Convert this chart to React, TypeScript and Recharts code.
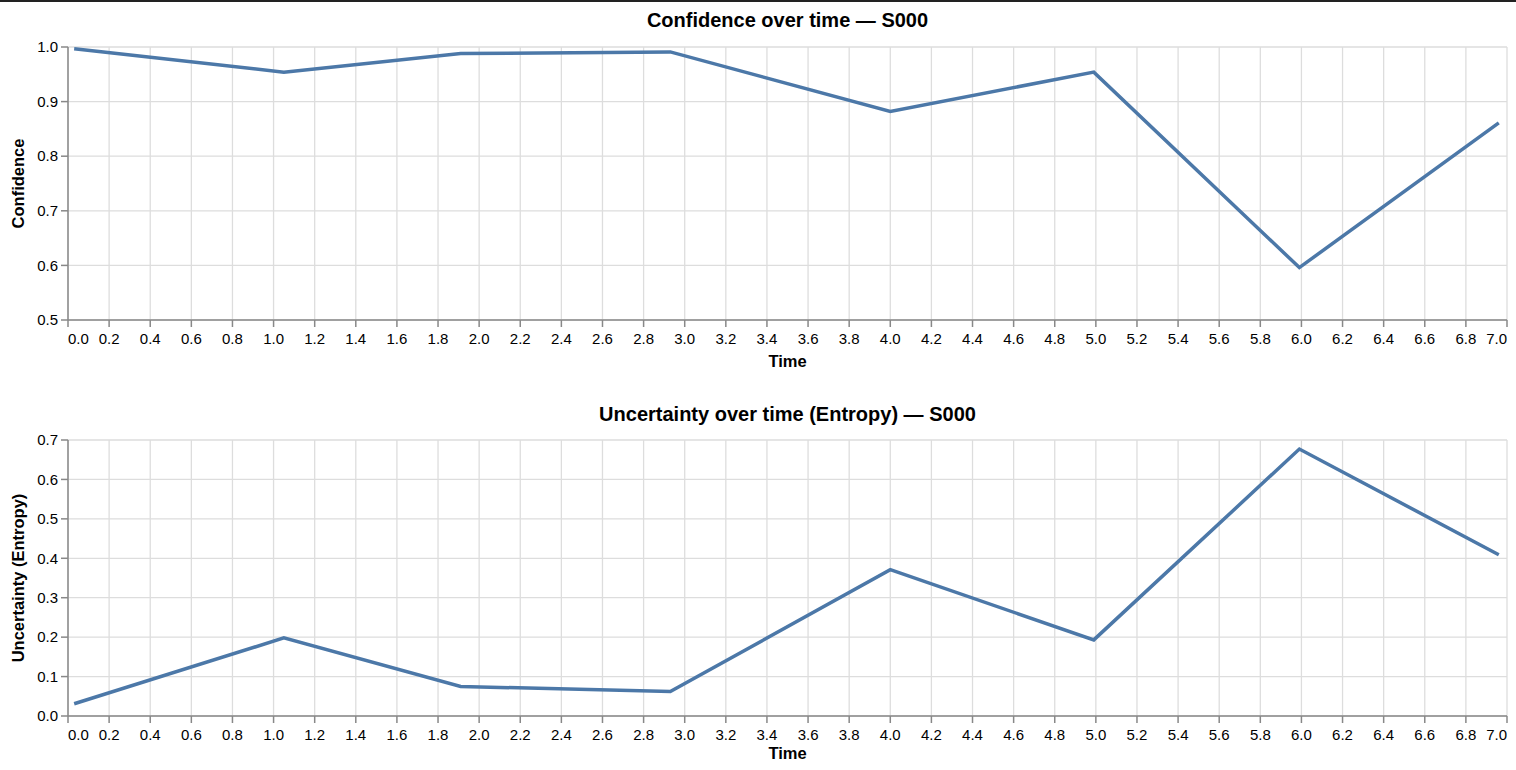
import { LineChart, Line, XAxis, YAxis, CartesianGrid, Label } from 'recharts';

const times = [0.03, 1.05, 1.91, 2.93, 4.0, 4.99, 5.99, 6.96];
const confidence = [0.997, 0.954, 0.988, 0.991, 0.882, 0.954, 0.596, 0.861];
const entropy = [0.031, 0.198, 0.075, 0.062, 0.371, 0.193, 0.677, 0.409];

const timeTicks = [
  0, 0.2, 0.4, 0.6, 0.8, 1.0, 1.2, 1.4, 1.6, 1.8, 2.0, 2.2, 2.4, 2.6, 2.8, 3.0, 3.2, 3.4,
  3.6, 3.8, 4.0, 4.2, 4.4, 4.6, 4.8, 5.0, 5.2, 5.4, 5.6, 5.8, 6.0, 6.2, 6.4, 6.6, 6.8, 7.0,
];
const confidenceTicks = [0.5, 0.6, 0.7, 0.8, 0.9, 1.0];
const entropyTicks = [0, 0.1, 0.2, 0.3, 0.4, 0.5, 0.6, 0.7];

const FONT = '"Liberation Sans", Arial, Helvetica, sans-serif';
const AXIS = '#888';
const GRID = '#ddd';
const LINE = '#4c78a8';

const data = times.map((t, i) => ({
  t,
  confidence: confidence[i],
  entropy: entropy[i],
}));

const XTick = (props: any) => {
  const { x, y, payload } = props;
  const v = payload.value;
  // first and last labels are flushed to the axis ends
  const anchor = v === 0 ? 'start' : v === 7 ? 'end' : 'middle';
  return (
    <text x={x} y={y + 14} textAnchor={anchor} fontSize={15} fontFamily={FONT} fill="#000">
      {Number(v).toFixed(1)}
    </text>
  );
};

const YTick = (props: any) => {
  const { x, y, payload } = props;
  return (
    <text x={x} y={y} dy="0.35em" textAnchor="end" fontSize={15} fontFamily={FONT} fill="#000">
      {Number(payload.value).toFixed(1)}
    </text>
  );
};

interface PanelProps {
  title: string;
  yLabel: string;
  dataKey: string;
  yDomain: [number, number];
  yTicks: number[];
  marginTop: number;
  marginBottom: number;
  labelOffset: number;
  titleTop: number;
}

const Panel = ({ title, yLabel, dataKey, yDomain, yTicks, marginTop, marginBottom, labelOffset, titleTop }: PanelProps) => (
  <div style={{ position: 'relative', width: 1516, height: 385 }}>
    <div
      style={{
        position: 'absolute',
        left: 68,
        width: 1439,
        top: titleTop,
        textAlign: 'center',
        fontFamily: FONT,
        fontWeight: 'bold',
        fontSize: 20,
        color: '#000',
      }}
    >
      {title}
    </div>
    <LineChart
      width={1516}
      height={385}
      data={data}
      margin={{ top: marginTop, right: 9, bottom: marginBottom, left: 8 }}
    >
      <CartesianGrid stroke={GRID} strokeWidth={1.3} />
      <XAxis
        dataKey="t"
        type="number"
        domain={[0, 7]}
        ticks={timeTicks}
        interval={0}
        height={50}
        tickSize={7}
        tickMargin={3}
        stroke={AXIS}
        strokeWidth={1.5}
        tick={<XTick />}
      >
        <Label
          value="Time"
          position="insideBottom"
          offset={labelOffset}
          style={{ fontFamily: FONT, fontWeight: 'bold', fontSize: 16.5, fill: '#000' }}
        />
      </XAxis>
      <YAxis
        type="number"
        domain={yDomain}
        ticks={yTicks}
        interval={0}
        width={60}
        tickSize={7}
        tickMargin={3}
        stroke={AXIS}
        strokeWidth={1.5}
        tick={<YTick />}
      >
        <Label
          value={yLabel}
          angle={-90}
          position="insideLeft"
          offset={10}
          style={{ textAnchor: 'middle', fontFamily: FONT, fontWeight: 'bold', fontSize: 16.5, fill: '#000' }}
        />
      </YAxis>
      <Line
        type="linear"
        dataKey={dataKey}
        stroke={LINE}
        strokeWidth={3.5}
        dot={false}
        isAnimationActive={false}
      />
    </LineChart>
  </div>
);

export default function App() {
  return (
    <div
      style={{
        position: 'absolute',
        left: 0,
        top: 0,
        width: 1516,
        height: 770,
        background: '#fff',
        borderTop: '2px solid #222',
        boxSizing: 'border-box',
      }}
    >
      <Panel
        title="Confidence over time — S000"
        yLabel="Confidence"
        dataKey="confidence"
        yDomain={[0.5, 1.0]}
        yTicks={confidenceTicks}
        marginTop={45}
        marginBottom={17}
        labelOffset={3}
        titleTop={7}
      />
      <Panel
        title="Uncertainty over time (Entropy) — S000"
        yLabel="Uncertainty (Entropy)"
        dataKey="entropy"
        yDomain={[0, 0.7]}
        yTicks={entropyTicks}
        marginTop={53}
        marginBottom={6}
        labelOffset={7}
        titleTop={16}
      />
    </div>
  );
}
